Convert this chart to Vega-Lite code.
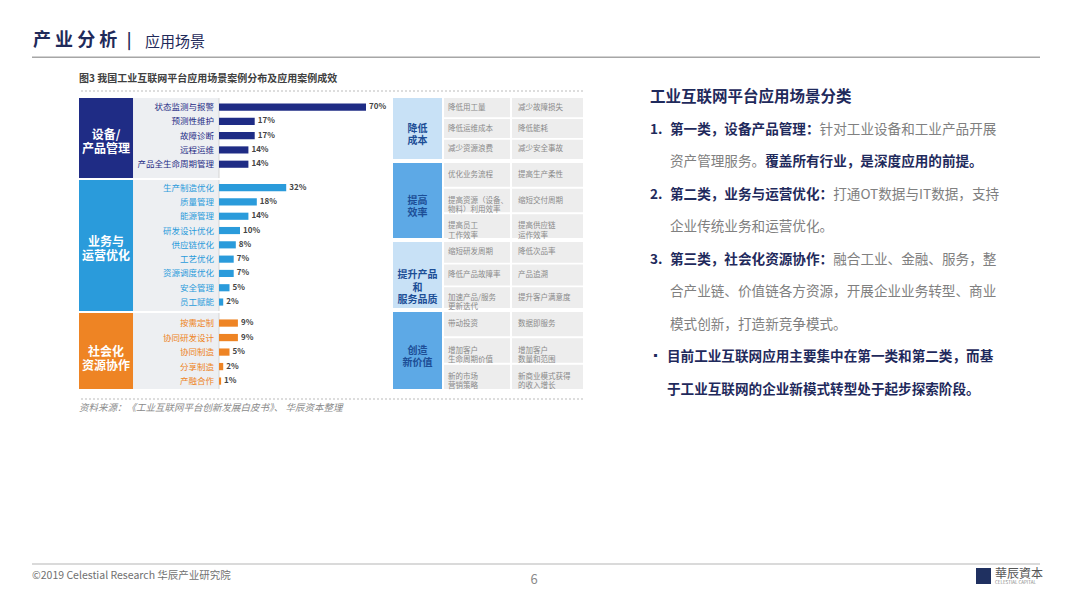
{
  "$schema": "https://vega.github.io/schema/vega-lite/v6.json",
  "background": "white",
  "padding": 0,
  "config": {
    "view": {"stroke": null},
    "axis": {"disable": true},
    "legend": {"disable": true},
    "font": "Noto Sans CJK SC",
    "text": {"font": "Noto Sans CJK SC"}
  },
  "datasets": {
    "bars": [
      {"group": "设备/产品管理", "cat": "状态监测与报警", "value": 0.70},
      {"group": "设备/产品管理", "cat": "预测性维护", "value": 0.17},
      {"group": "设备/产品管理", "cat": "故障诊断", "value": 0.17},
      {"group": "设备/产品管理", "cat": "远程运维", "value": 0.14},
      {"group": "设备/产品管理", "cat": "产品全生命周期管理", "value": 0.14},
      {"group": "业务与运营优化", "cat": "生产制造优化", "value": 0.32},
      {"group": "业务与运营优化", "cat": "质量管理", "value": 0.18},
      {"group": "业务与运营优化", "cat": "能源管理", "value": 0.14},
      {"group": "业务与运营优化", "cat": "研发设计优化", "value": 0.10},
      {"group": "业务与运营优化", "cat": "供应链优化", "value": 0.08},
      {"group": "业务与运营优化", "cat": "工艺优化", "value": 0.07},
      {"group": "业务与运营优化", "cat": "资源调度优化", "value": 0.07},
      {"group": "业务与运营优化", "cat": "安全管理", "value": 0.05},
      {"group": "业务与运营优化", "cat": "员工赋能", "value": 0.02},
      {"group": "社会化资源协作", "cat": "按需定制", "value": 0.09},
      {"group": "社会化资源协作", "cat": "协同研发设计", "value": 0.09},
      {"group": "社会化资源协作", "cat": "协同制造", "value": 0.05},
      {"group": "社会化资源协作", "cat": "分享制造", "value": 0.02},
      {"group": "社会化资源协作", "cat": "产融合作", "value": 0.01}
    ],
    "cells": [
      {"g": 1, "row": 1, "a": "降低用工量", "b": "减少故障损失"},
      {"g": 1, "row": 2, "a": "降低运维成本", "b": "降低能耗"},
      {"g": 1, "row": 3, "a": "减少资源浪费", "b": "减少安全事故"},
      {"g": 2, "row": 1, "a": "优化业务流程", "b": "提高生产柔性"},
      {"g": 2, "row": 2, "a": "提高资源（设备、\n物料）利用效率", "b": "缩短交付周期"},
      {"g": 2, "row": 3, "a": "提高员工\n工作效率", "b": "提高供应链\n运作效率"},
      {"g": 3, "row": 1, "a": "缩短研发周期", "b": "降低次品率"},
      {"g": 3, "row": 2, "a": "降低产品故障率", "b": "产品追溯"},
      {"g": 3, "row": 3, "a": "加速产品/服务\n更新迭代", "b": "提升客户满意度"},
      {"g": 4, "row": 1, "a": "带动投资", "b": "数据即服务"},
      {"g": 4, "row": 2, "a": "增加客户\n生命周期价值", "b": "增加客户\n数量和范围"},
      {"g": 4, "row": 3, "a": "新的市场\n营销策略", "b": "新商业模式获得\n的收入增长"}
    ],
    "lines": [
      {"line": 0, "kind": "title", "text": "工业互联网平台应用场景分类"},
      {"line": 1, "kind": "num", "text": "1."},
      {"line": 1, "kind": "bold", "text": "第一类，设备产品管理："},
      {"line": 1, "kind": "tail11", "text": "针对工业设备和工业产品开展"},
      {"line": 2, "kind": "normal", "text": "资产管理服务。"},
      {"line": 2, "kind": "btail7", "text": "覆盖所有行业，是深度应用的前提。"},
      {"line": 3, "kind": "num", "text": "2."},
      {"line": 3, "kind": "bold", "text": "第二类，业务与运营优化："},
      {"line": 3, "kind": "tail12", "text": "打通OT数据与IT数据，支持"},
      {"line": 4, "kind": "normal", "text": "企业传统业务和运营优化。"},
      {"line": 5, "kind": "num", "text": "3."},
      {"line": 5, "kind": "bold", "text": "第三类，社会化资源协作："},
      {"line": 5, "kind": "tail12", "text": "融合工业、金融、服务，整"},
      {"line": 6, "kind": "normal", "text": "合产业链、价值链各方资源，开展企业业务转型、商业"},
      {"line": 7, "kind": "normal", "text": "模式创新，打造新竞争模式。"},
      {"line": 8, "kind": "bullet", "text": "▪"},
      {"line": 8, "kind": "bold2", "text": "目前工业互联网应用主要集中在第一类和第二类，而基"},
      {"line": 9, "kind": "bold2", "text": "于工业互联网的企业新模式转型处于起步探索阶段。"}
    ]
  },
  "spacing": 0,
  "vconcat": [
    {
      "width": 1080, "height": 62,
      "data": {"values": [{"a": "产 业 分 析", "b": "|", "c": "应用场景"}]},
      "layer": [
        {"mark": {"type": "text", "align": "left", "baseline": "middle", "fontSize": 18, "fontWeight": "bold", "color": "#1F2A5A"},
         "encoding": {"x": {"datum": 33, "type": "quantitative", "scale": {"domain": [0, 1080], "nice": false, "zero": false}}, "y": {"datum": 41, "type": "quantitative", "scale": {"domain": [0, 62], "reverse": true, "nice": false, "zero": false}}, "text": {"field": "a"}}},
        {"mark": {"type": "text", "align": "center", "baseline": "middle", "fontSize": 16, "fontWeight": "bold", "color": "#1F2A5A"},
         "encoding": {"x": {"datum": 129, "type": "quantitative", "scale": {"domain": [0, 1080], "nice": false, "zero": false}}, "y": {"datum": 41, "type": "quantitative", "scale": {"domain": [0, 62], "reverse": true, "nice": false, "zero": false}}, "text": {"field": "b"}}},
        {"mark": {"type": "text", "align": "left", "baseline": "middle", "fontSize": 15, "color": "#1F2A5A"},
         "encoding": {"x": {"datum": 145, "type": "quantitative", "scale": {"domain": [0, 1080], "nice": false, "zero": false}}, "y": {"datum": 42, "type": "quantitative", "scale": {"domain": [0, 62], "reverse": true, "nice": false, "zero": false}}, "text": {"field": "c"}}},
        {"mark": {"type": "rule", "color": "#A6A6A6", "strokeWidth": 1.5},
         "encoding": {"x": {"datum": 32, "type": "quantitative", "scale": {"domain": [0, 1080], "nice": false, "zero": false}}, "x2": {"datum": 1040}, "y": {"datum": 57.3, "type": "quantitative", "scale": {"domain": [0, 62], "reverse": true, "nice": false, "zero": false}}}}
      ]
    },
    {
      "spacing": 0,
      "hconcat": [
        {"width": 78, "height": 1, "data": {"values": []}, "mark": {"type": "point", "opacity": 0}, "encoding": {}},
        {
          "spacing": 0,
          "vconcat": [
            {
              "width": 504, "height": 35,
              "data": {"values": [{"t": "图3 我国工业互联网平台应用场景案例分布及应用案例成效"}]},
              "layer": [
                {"mark": {"type": "text", "align": "left", "baseline": "middle", "fontSize": 10, "fontWeight": "bold", "color": "#404040"},
                 "encoding": {"x": {"datum": 0, "type": "quantitative", "scale": {"domain": [0, 504], "nice": false}}, "y": {"datum": 17, "type": "quantitative", "scale": {"domain": [0, 35], "reverse": true, "nice": false}}, "text": {"field": "t"}}},
                {"mark": {"type": "rule", "color": "#BBBBBB", "strokeDash": [2, 2]},
                 "encoding": {"y": {"datum": 29, "type": "quantitative", "scale": {"domain": [0, 35], "reverse": true, "nice": false}}}}
              ]
            },
            {
              "spacing": 0,
              "hconcat": [
                {
                  "spacing": 2,
                  "bounds": "flush",
                  "vconcat": [
                    {
                      "width": 312, "height": 80,
                      "layer": [
                        {"data": {"values": [{"group": "设备/产品管理", "name": "设备/\n产品管理"}]},
                         "layer": [
                           {"mark": {"type": "rect", "color": "#EDEFF2"}, "encoding": {"x": {"datum": -0.4095, "type": "quantitative", "scale": {"domain": [-0.6667, 0.819], "nice": false, "zero": false}}, "x2": {"datum": 0}}},
                           {"mark": {"type": "rect"}, "encoding": {"x": {"datum": -0.6667, "type": "quantitative", "scale": {"domain": [-0.6667, 0.819], "nice": false, "zero": false}}, "x2": {"datum": -0.4095}, "color": {"field": "group", "type": "nominal", "scale": {"domain": ["设备/产品管理", "业务与运营优化", "社会化资源协作", "light", "mid"], "range": ["#1F2C85", "#2A9BDB", "#EE8424", "#C8E1F6", "#5DA9E6"]}}}},
                           {"mark": {"type": "text", "align": "center", "baseline": "middle", "color": "white", "fontWeight": "bold", "fontSize": 12, "lineBreak": "\n", "lineHeight": 14, "dy": -3}, "encoding": {"x": {"datum": -0.538, "type": "quantitative", "scale": {"domain": [-0.6667, 0.819], "nice": false, "zero": false}}, "text": {"field": "name"}}},
                           {"mark": {"type": "rule", "color": "#D5D5D5"}, "encoding": {"x": {"datum": 0, "type": "quantitative", "scale": {"domain": [-0.6667, 0.819], "nice": false, "zero": false}}}}
                         ]},
                        {"data": {"name": "bars"},
                         "transform": [{"filter": "datum.group == '设备/产品管理'"}],
                         "encoding": {"y": {"field": "cat", "type": "nominal", "sort": null, "scale": {"paddingInner": 0.5, "paddingOuter": 0.55, "align": 0.35}}},
                         "layer": [
                           {"mark": {"type": "bar"}, "encoding": {"x": {"field": "value", "type": "quantitative", "scale": {"domain": [-0.6667, 0.819], "nice": false, "zero": false}}, "color": {"field": "group", "type": "nominal", "scale": {"domain": ["设备/产品管理", "业务与运营优化", "社会化资源协作", "light", "mid"], "range": ["#1F2C85", "#2A9BDB", "#EE8424", "#C8E1F6", "#5DA9E6"]}}}},
                           {"mark": {"type": "text", "align": "right", "baseline": "middle", "fontSize": 8.5}, "encoding": {"x": {"datum": -0.024, "type": "quantitative", "scale": {"domain": [-0.6667, 0.819], "nice": false, "zero": false}}, "text": {"field": "cat"}, "color": {"field": "group", "type": "nominal", "scale": {"domain": ["设备/产品管理", "业务与运营优化", "社会化资源协作", "light", "mid"], "range": ["#1F2C85", "#2A9BDB", "#EE8424", "#C8E1F6", "#5DA9E6"]}}}},
                           {"mark": {"type": "text", "align": "left", "baseline": "middle", "dx": 3, "fontSize": 8, "fontWeight": "bold", "color": "#444444"}, "encoding": {"x": {"field": "value", "type": "quantitative", "scale": {"domain": [-0.6667, 0.819], "nice": false, "zero": false}}, "text": {"field": "value", "type": "quantitative", "format": ".0%"}}}
                         ]}
                      ]
                    },
                    {
                      "width": 312, "height": 131,
                      "layer": [
                        {"data": {"values": [{"group": "业务与运营优化", "name": "业务与\n运营优化"}]},
                         "layer": [
                           {"mark": {"type": "rect", "color": "#EDEFF2"}, "encoding": {"x": {"datum": -0.4095, "type": "quantitative", "scale": {"domain": [-0.6667, 0.819], "nice": false, "zero": false}}, "x2": {"datum": 0}}},
                           {"mark": {"type": "rect"}, "encoding": {"x": {"datum": -0.6667, "type": "quantitative", "scale": {"domain": [-0.6667, 0.819], "nice": false, "zero": false}}, "x2": {"datum": -0.4095}, "color": {"field": "group", "type": "nominal", "scale": {"domain": ["设备/产品管理", "业务与运营优化", "社会化资源协作", "light", "mid"], "range": ["#1F2C85", "#2A9BDB", "#EE8424", "#C8E1F6", "#5DA9E6"]}}}},
                           {"mark": {"type": "text", "align": "center", "baseline": "middle", "color": "white", "fontWeight": "bold", "fontSize": 12, "lineBreak": "\n", "lineHeight": 14, "dy": -4}, "encoding": {"x": {"datum": -0.538, "type": "quantitative", "scale": {"domain": [-0.6667, 0.819], "nice": false, "zero": false}}, "text": {"field": "name"}}},
                           {"mark": {"type": "rule", "color": "#D5D5D5"}, "encoding": {"x": {"datum": 0, "type": "quantitative", "scale": {"domain": [-0.6667, 0.819], "nice": false, "zero": false}}}}
                         ]},
                        {"data": {"name": "bars"},
                         "transform": [{"filter": "datum.group == '业务与运营优化'"}],
                         "encoding": {"y": {"field": "cat", "type": "nominal", "sort": null, "scale": {"paddingInner": 0.5, "paddingOuter": 0.33, "align": 0.43}}},
                         "layer": [
                           {"mark": {"type": "bar"}, "encoding": {"x": {"field": "value", "type": "quantitative", "scale": {"domain": [-0.6667, 0.819], "nice": false, "zero": false}}, "color": {"field": "group", "type": "nominal", "scale": {"domain": ["设备/产品管理", "业务与运营优化", "社会化资源协作", "light", "mid"], "range": ["#1F2C85", "#2A9BDB", "#EE8424", "#C8E1F6", "#5DA9E6"]}}}},
                           {"mark": {"type": "text", "align": "right", "baseline": "middle", "fontSize": 8.5}, "encoding": {"x": {"datum": -0.024, "type": "quantitative", "scale": {"domain": [-0.6667, 0.819], "nice": false, "zero": false}}, "text": {"field": "cat"}, "color": {"field": "group", "type": "nominal", "scale": {"domain": ["设备/产品管理", "业务与运营优化", "社会化资源协作", "light", "mid"], "range": ["#1F2C85", "#2A9BDB", "#EE8424", "#C8E1F6", "#5DA9E6"]}}}},
                           {"mark": {"type": "text", "align": "left", "baseline": "middle", "dx": 3, "fontSize": 8, "fontWeight": "bold", "color": "#444444"}, "encoding": {"x": {"field": "value", "type": "quantitative", "scale": {"domain": [-0.6667, 0.819], "nice": false, "zero": false}}, "text": {"field": "value", "type": "quantitative", "format": ".0%"}}}
                         ]}
                      ]
                    },
                    {
                      "width": 312, "height": 76,
                      "layer": [
                        {"data": {"values": [{"group": "社会化资源协作", "name": "社会化\n资源协作"}]},
                         "layer": [
                           {"mark": {"type": "rect", "color": "#EDEFF2"}, "encoding": {"x": {"datum": -0.4095, "type": "quantitative", "scale": {"domain": [-0.6667, 0.819], "nice": false, "zero": false}}, "x2": {"datum": 0}}},
                           {"mark": {"type": "rect"}, "encoding": {"x": {"datum": -0.6667, "type": "quantitative", "scale": {"domain": [-0.6667, 0.819], "nice": false, "zero": false}}, "x2": {"datum": -0.4095}, "color": {"field": "group", "type": "nominal", "scale": {"domain": ["设备/产品管理", "业务与运营优化", "社会化资源协作", "light", "mid"], "range": ["#1F2C85", "#2A9BDB", "#EE8424", "#C8E1F6", "#5DA9E6"]}}}},
                           {"mark": {"type": "text", "align": "center", "baseline": "middle", "color": "white", "fontWeight": "bold", "fontSize": 12, "lineBreak": "\n", "lineHeight": 14, "dy": 1}, "encoding": {"x": {"datum": -0.538, "type": "quantitative", "scale": {"domain": [-0.6667, 0.819], "nice": false, "zero": false}}, "text": {"field": "name"}}},
                           {"mark": {"type": "rule", "color": "#D5D5D5"}, "encoding": {"x": {"datum": 0, "type": "quantitative", "scale": {"domain": [-0.6667, 0.819], "nice": false, "zero": false}}}}
                         ]},
                        {"data": {"name": "bars"},
                         "transform": [{"filter": "datum.group == '社会化资源协作'"}],
                         "encoding": {"y": {"field": "cat", "type": "nominal", "sort": null, "scale": {"paddingInner": 0.5, "paddingOuter": 0.37, "align": 0.6}}},
                         "layer": [
                           {"mark": {"type": "bar"}, "encoding": {"x": {"field": "value", "type": "quantitative", "scale": {"domain": [-0.6667, 0.819], "nice": false, "zero": false}}, "color": {"field": "group", "type": "nominal", "scale": {"domain": ["设备/产品管理", "业务与运营优化", "社会化资源协作", "light", "mid"], "range": ["#1F2C85", "#2A9BDB", "#EE8424", "#C8E1F6", "#5DA9E6"]}}}},
                           {"mark": {"type": "text", "align": "right", "baseline": "middle", "fontSize": 8.5}, "encoding": {"x": {"datum": -0.024, "type": "quantitative", "scale": {"domain": [-0.6667, 0.819], "nice": false, "zero": false}}, "text": {"field": "cat"}, "color": {"field": "group", "type": "nominal", "scale": {"domain": ["设备/产品管理", "业务与运营优化", "社会化资源协作", "light", "mid"], "range": ["#1F2C85", "#2A9BDB", "#EE8424", "#C8E1F6", "#5DA9E6"]}}}},
                           {"mark": {"type": "text", "align": "left", "baseline": "middle", "dx": 3, "fontSize": 8, "fontWeight": "bold", "color": "#444444"}, "encoding": {"x": {"field": "value", "type": "quantitative", "scale": {"domain": [-0.6667, 0.819], "nice": false, "zero": false}}, "text": {"field": "value", "type": "quantitative", "format": ".0%"}}}
                         ]}
                      ]
                    }
                  ]
                },
                {"width": 2, "height": 1, "data": {"values": []}, "mark": {"type": "point", "opacity": 0}, "encoding": {}},
                {
                  "spacing": 4,
                  "bounds": "flush",
                  "vconcat": [
                    {
                      "width": 190, "height": 61,
                      "layer": [
                        {"data": {"values": [{"head": "降低\n成本", "tone": "light"}]},
                         "layer": [
                           {"mark": {"type": "rect"}, "encoding": {"x": {"datum": 0, "type": "quantitative", "scale": {"domain": [0, 190], "nice": false, "zero": false}}, "x2": {"datum": 49}, "color": {"field": "tone", "type": "nominal", "scale": {"domain": ["设备/产品管理", "业务与运营优化", "社会化资源协作", "light", "mid"], "range": ["#1F2C85", "#2A9BDB", "#EE8424", "#C8E1F6", "#5DA9E6"]}}}},
                           {"mark": {"type": "text", "align": "center", "baseline": "middle", "fontSize": 10, "fontWeight": "bold", "color": "#1C4E96", "lineBreak": "\n", "lineHeight": 12.5}, "encoding": {"x": {"datum": 24.5, "type": "quantitative", "scale": {"domain": [0, 190], "nice": false, "zero": false}}, "text": {"field": "head"}}}
                         ]},
                        {"data": {"name": "cells"}, "transform": [{"filter": "datum.g == 1"}],
                         "encoding": {"y": {"field": "row", "type": "ordinal", "scale": {"paddingInner": 0.08, "paddingOuter": 0}}},
                         "layer": [
                           {"mark": {"type": "rect", "color": "#EDEDED"}, "encoding": {"x": {"datum": 51, "type": "quantitative", "scale": {"domain": [0, 190], "nice": false, "zero": false}}, "x2": {"datum": 117}}},
                           {"mark": {"type": "rect", "color": "#EDEDED"}, "encoding": {"x": {"datum": 119, "type": "quantitative", "scale": {"domain": [0, 190], "nice": false, "zero": false}}, "x2": {"datum": 190}}},
                           {"mark": {"type": "text", "align": "left", "baseline": "middle", "fontSize": 7.5, "color": "#8A8A8A", "lineBreak": "\n", "lineHeight": 9.5}, "encoding": {"x": {"datum": 55, "type": "quantitative", "scale": {"domain": [0, 190], "nice": false, "zero": false}}, "text": {"field": "a"}}},
                           {"mark": {"type": "text", "align": "left", "baseline": "middle", "fontSize": 7.5, "color": "#8A8A8A", "lineBreak": "\n", "lineHeight": 9.5}, "encoding": {"x": {"datum": 125, "type": "quantitative", "scale": {"domain": [0, 190], "nice": false, "zero": false}}, "text": {"field": "b"}}}
                         ]}
                      ]
                    },
                    {
                      "width": 190, "height": 75,
                      "layer": [
                        {"data": {"values": [{"head": "提高\n效率", "tone": "mid"}]},
                         "layer": [
                           {"mark": {"type": "rect"}, "encoding": {"x": {"datum": 0, "type": "quantitative", "scale": {"domain": [0, 190], "nice": false, "zero": false}}, "x2": {"datum": 49}, "color": {"field": "tone", "type": "nominal", "scale": {"domain": ["设备/产品管理", "业务与运营优化", "社会化资源协作", "light", "mid"], "range": ["#1F2C85", "#2A9BDB", "#EE8424", "#C8E1F6", "#5DA9E6"]}}}},
                           {"mark": {"type": "text", "align": "center", "baseline": "middle", "fontSize": 10, "fontWeight": "bold", "color": "#1C4E96", "lineBreak": "\n", "lineHeight": 12.5}, "encoding": {"x": {"datum": 24.5, "type": "quantitative", "scale": {"domain": [0, 190], "nice": false, "zero": false}}, "text": {"field": "head"}}}
                         ]},
                        {"data": {"name": "cells"}, "transform": [{"filter": "datum.g == 2"}],
                         "encoding": {"y": {"field": "row", "type": "ordinal", "scale": {"paddingInner": 0.08, "paddingOuter": 0}}},
                         "layer": [
                           {"mark": {"type": "rect", "color": "#EDEDED"}, "encoding": {"x": {"datum": 51, "type": "quantitative", "scale": {"domain": [0, 190], "nice": false, "zero": false}}, "x2": {"datum": 117}}},
                           {"mark": {"type": "rect", "color": "#EDEDED"}, "encoding": {"x": {"datum": 119, "type": "quantitative", "scale": {"domain": [0, 190], "nice": false, "zero": false}}, "x2": {"datum": 190}}},
                           {"mark": {"type": "text", "align": "left", "baseline": "middle", "fontSize": 7.5, "color": "#8A8A8A", "lineBreak": "\n", "lineHeight": 9.5}, "encoding": {"x": {"datum": 55, "type": "quantitative", "scale": {"domain": [0, 190], "nice": false, "zero": false}}, "text": {"field": "a"}}},
                           {"mark": {"type": "text", "align": "left", "baseline": "middle", "fontSize": 7.5, "color": "#8A8A8A", "lineBreak": "\n", "lineHeight": 9.5}, "encoding": {"x": {"datum": 125, "type": "quantitative", "scale": {"domain": [0, 190], "nice": false, "zero": false}}, "text": {"field": "b"}}}
                         ]}
                      ]
                    },
                    {
                      "width": 190, "height": 66,
                      "layer": [
                        {"data": {"values": [{"head": "提升产品\n和\n服务品质", "tone": "light"}]},
                         "layer": [
                           {"mark": {"type": "rect"}, "encoding": {"x": {"datum": 0, "type": "quantitative", "scale": {"domain": [0, 190], "nice": false, "zero": false}}, "x2": {"datum": 49}, "color": {"field": "tone", "type": "nominal", "scale": {"domain": ["设备/产品管理", "业务与运营优化", "社会化资源协作", "light", "mid"], "range": ["#1F2C85", "#2A9BDB", "#EE8424", "#C8E1F6", "#5DA9E6"]}}}},
                           {"mark": {"type": "text", "align": "center", "baseline": "middle", "fontSize": 10, "fontWeight": "bold", "color": "#1C4E96", "lineBreak": "\n", "lineHeight": 12.5}, "encoding": {"x": {"datum": 24.5, "type": "quantitative", "scale": {"domain": [0, 190], "nice": false, "zero": false}}, "text": {"field": "head"}}}
                         ]},
                        {"data": {"name": "cells"}, "transform": [{"filter": "datum.g == 3"}],
                         "encoding": {"y": {"field": "row", "type": "ordinal", "scale": {"paddingInner": 0.08, "paddingOuter": 0}}},
                         "layer": [
                           {"mark": {"type": "rect", "color": "#EDEDED"}, "encoding": {"x": {"datum": 51, "type": "quantitative", "scale": {"domain": [0, 190], "nice": false, "zero": false}}, "x2": {"datum": 117}}},
                           {"mark": {"type": "rect", "color": "#EDEDED"}, "encoding": {"x": {"datum": 119, "type": "quantitative", "scale": {"domain": [0, 190], "nice": false, "zero": false}}, "x2": {"datum": 190}}},
                           {"mark": {"type": "text", "align": "left", "baseline": "middle", "fontSize": 7.5, "color": "#8A8A8A", "lineBreak": "\n", "lineHeight": 9.5}, "encoding": {"x": {"datum": 55, "type": "quantitative", "scale": {"domain": [0, 190], "nice": false, "zero": false}}, "text": {"field": "a"}}},
                           {"mark": {"type": "text", "align": "left", "baseline": "middle", "fontSize": 7.5, "color": "#8A8A8A", "lineBreak": "\n", "lineHeight": 9.5}, "encoding": {"x": {"datum": 125, "type": "quantitative", "scale": {"domain": [0, 190], "nice": false, "zero": false}}, "text": {"field": "b"}}}
                         ]}
                      ]
                    },
                    {
                      "width": 190, "height": 77,
                      "layer": [
                        {"data": {"values": [{"head": "创造\n新价值", "tone": "mid"}]},
                         "layer": [
                           {"mark": {"type": "rect"}, "encoding": {"x": {"datum": 0, "type": "quantitative", "scale": {"domain": [0, 190], "nice": false, "zero": false}}, "x2": {"datum": 49}, "color": {"field": "tone", "type": "nominal", "scale": {"domain": ["设备/产品管理", "业务与运营优化", "社会化资源协作", "light", "mid"], "range": ["#1F2C85", "#2A9BDB", "#EE8424", "#C8E1F6", "#5DA9E6"]}}}},
                           {"mark": {"type": "text", "align": "center", "baseline": "middle", "fontSize": 10, "fontWeight": "bold", "color": "#1C4E96", "lineBreak": "\n", "lineHeight": 12.5}, "encoding": {"x": {"datum": 24.5, "type": "quantitative", "scale": {"domain": [0, 190], "nice": false, "zero": false}}, "text": {"field": "head"}}}
                         ]},
                        {"data": {"name": "cells"}, "transform": [{"filter": "datum.g == 4"}],
                         "encoding": {"y": {"field": "row", "type": "ordinal", "scale": {"paddingInner": 0.08, "paddingOuter": 0}}},
                         "layer": [
                           {"mark": {"type": "rect", "color": "#EDEDED"}, "encoding": {"x": {"datum": 51, "type": "quantitative", "scale": {"domain": [0, 190], "nice": false, "zero": false}}, "x2": {"datum": 117}}},
                           {"mark": {"type": "rect", "color": "#EDEDED"}, "encoding": {"x": {"datum": 119, "type": "quantitative", "scale": {"domain": [0, 190], "nice": false, "zero": false}}, "x2": {"datum": 190}}},
                           {"mark": {"type": "text", "align": "left", "baseline": "middle", "fontSize": 7.5, "color": "#8A8A8A", "lineBreak": "\n", "lineHeight": 9.5}, "encoding": {"x": {"datum": 55, "type": "quantitative", "scale": {"domain": [0, 190], "nice": false, "zero": false}}, "text": {"field": "a"}}},
                           {"mark": {"type": "text", "align": "left", "baseline": "middle", "fontSize": 7.5, "color": "#8A8A8A", "lineBreak": "\n", "lineHeight": 9.5}, "encoding": {"x": {"datum": 125, "type": "quantitative", "scale": {"domain": [0, 190], "nice": false, "zero": false}}, "text": {"field": "b"}}}
                         ]}
                      ]
                    }
                  ]
                }
              ]
            },
            {
              "width": 504, "height": 27,
              "data": {"values": [{"t": "资料来源：《工业互联网平台创新发展白皮书》、 华辰资本整理"}]},
              "layer": [
                {"mark": {"type": "rule", "color": "#BBBBBB", "strokeDash": [2, 2]},
                 "encoding": {"y": {"datum": 9, "type": "quantitative", "scale": {"domain": [0, 27], "reverse": true, "nice": false}}}},
                {"mark": {"type": "text", "align": "left", "baseline": "middle", "fontSize": 9.5, "fontStyle": "italic", "color": "#8A8A8A"},
                 "encoding": {"x": {"datum": 0, "type": "quantitative", "scale": {"domain": [0, 504], "nice": false}}, "y": {"datum": 18, "type": "quantitative", "scale": {"domain": [0, 27], "reverse": true, "nice": false}}, "text": {"field": "t"}}}
              ]
            }
          ]
        },
        {"width": 66, "height": 1, "data": {"values": []}, "mark": {"type": "point", "opacity": 0}, "encoding": {}},
        {
          "width": 400, "height": 353,
          "data": {"name": "lines"},
          "encoding": {"y": {"field": "line", "type": "quantitative", "scale": {"domain": [-1.075, 9.77], "reverse": true, "nice": false, "zero": false}}},
          "layer": [
            {"transform": [{"filter": "datum.kind == 'title'"}],
             "mark": {"type": "text", "align": "left", "baseline": "middle", "fontSize": 15.5, "fontWeight": "bold", "color": "#1F2A5C"},
             "encoding": {"x": {"datum": 0, "type": "quantitative", "scale": {"domain": [0, 400], "nice": false, "zero": false}}, "text": {"field": "text"}}},
            {"transform": [{"filter": "datum.kind == 'num'"}],
             "mark": {"type": "text", "align": "left", "baseline": "middle", "fontSize": 13.6, "fontWeight": "bold", "color": "#1F2A5C"},
             "encoding": {"x": {"datum": 0, "type": "quantitative", "scale": {"domain": [0, 400], "nice": false, "zero": false}}, "text": {"field": "text"}}},
            {"transform": [{"filter": "datum.kind == 'normal'"}],
             "mark": {"type": "text", "align": "left", "baseline": "middle", "fontSize": 13.6, "color": "#808080"},
             "encoding": {"x": {"datum": 20, "type": "quantitative", "scale": {"domain": [0, 400], "nice": false, "zero": false}}, "text": {"field": "text"}}},
            {"transform": [{"filter": "datum.kind == 'tail11'"}],
             "mark": {"type": "text", "align": "left", "baseline": "middle", "fontSize": 13.6, "color": "#808080"},
             "encoding": {"x": {"datum": 169.6, "type": "quantitative", "scale": {"domain": [0, 400], "nice": false, "zero": false}}, "text": {"field": "text"}}},
            {"transform": [{"filter": "datum.kind == 'tail12'"}],
             "mark": {"type": "text", "align": "left", "baseline": "middle", "fontSize": 13.6, "color": "#808080"},
             "encoding": {"x": {"datum": 183.2, "type": "quantitative", "scale": {"domain": [0, 400], "nice": false, "zero": false}}, "text": {"field": "text"}}},
            {"transform": [{"filter": "datum.kind == 'bold'"}],
             "mark": {"type": "text", "align": "left", "baseline": "middle", "fontSize": 13.6, "fontWeight": "bold", "color": "#1F2A5C"},
             "encoding": {"x": {"datum": 20, "type": "quantitative", "scale": {"domain": [0, 400], "nice": false, "zero": false}}, "text": {"field": "text"}}},
            {"transform": [{"filter": "datum.kind == 'btail7'"}],
             "mark": {"type": "text", "align": "left", "baseline": "middle", "fontSize": 13.6, "fontWeight": "bold", "color": "#1F2A5C"},
             "encoding": {"x": {"datum": 115.2, "type": "quantitative", "scale": {"domain": [0, 400], "nice": false, "zero": false}}, "text": {"field": "text"}}},
            {"transform": [{"filter": "datum.kind == 'bullet'"}],
             "mark": {"type": "text", "align": "left", "baseline": "middle", "fontSize": 11, "color": "#1F2A5C"},
             "encoding": {"x": {"datum": 0, "type": "quantitative", "scale": {"domain": [0, 400], "nice": false, "zero": false}}, "text": {"field": "text"}}},
            {"transform": [{"filter": "datum.kind == 'bold2'"}],
             "mark": {"type": "text", "align": "left", "baseline": "middle", "fontSize": 13.6, "fontWeight": "bold", "color": "#1F2A5C"},
             "encoding": {"x": {"datum": 17, "type": "quantitative", "scale": {"domain": [0, 400], "nice": false, "zero": false}}, "text": {"field": "text"}}}
          ]
        }
      ]
    },
    {
      "width": 1080, "height": 195,
      "data": {"values": [{"a": "©2019 Celestial Research 华辰产业研究院", "p": "6", "logo": "華辰資本", "sub": "CELESTIAL CAPITAL"}]},
      "layer": [
        {"mark": {"type": "rule", "color": "#B5B5B5", "strokeWidth": 1},
         "encoding": {"x": {"datum": 32, "type": "quantitative", "scale": {"domain": [0, 1080], "nice": false, "zero": false}}, "x2": {"datum": 1040}, "y": {"datum": 147, "type": "quantitative", "scale": {"domain": [0, 195], "reverse": true, "nice": false, "zero": false}}}},
        {"mark": {"type": "text", "align": "left", "baseline": "middle", "fontSize": 10.5, "color": "#707070"},
         "encoding": {"x": {"datum": 32, "type": "quantitative", "scale": {"domain": [0, 1080], "nice": false, "zero": false}}, "y": {"datum": 159, "type": "quantitative", "scale": {"domain": [0, 195], "reverse": true, "nice": false, "zero": false}}, "text": {"field": "a"}}},
        {"mark": {"type": "text", "align": "center", "baseline": "middle", "fontSize": 13, "color": "#8A8A8A"},
         "encoding": {"x": {"datum": 534, "type": "quantitative", "scale": {"domain": [0, 1080], "nice": false, "zero": false}}, "y": {"datum": 163, "type": "quantitative", "scale": {"domain": [0, 195], "reverse": true, "nice": false, "zero": false}}, "text": {"field": "p"}}},
        {"mark": {"type": "rect", "color": "#1F3060"},
         "encoding": {"x": {"datum": 976, "type": "quantitative", "scale": {"domain": [0, 1080], "nice": false, "zero": false}}, "x2": {"datum": 991}, "y": {"datum": 151, "type": "quantitative", "scale": {"domain": [0, 195], "reverse": true, "nice": false, "zero": false}}, "y2": {"datum": 167}}},
        {"mark": {"type": "text", "align": "left", "baseline": "middle", "fontSize": 12, "color": "#555555", "font": "Noto Sans CJK TC"},
         "encoding": {"x": {"datum": 995, "type": "quantitative", "scale": {"domain": [0, 1080], "nice": false, "zero": false}}, "y": {"datum": 157, "type": "quantitative", "scale": {"domain": [0, 195], "reverse": true, "nice": false, "zero": false}}, "text": {"field": "logo"}}},
        {"mark": {"type": "text", "align": "left", "baseline": "middle", "fontSize": 4.5, "color": "#888888"},
         "encoding": {"x": {"datum": 995, "type": "quantitative", "scale": {"domain": [0, 1080], "nice": false, "zero": false}}, "y": {"datum": 166, "type": "quantitative", "scale": {"domain": [0, 195], "reverse": true, "nice": false, "zero": false}}, "text": {"field": "sub"}}}
      ]
    }
  ]
}
